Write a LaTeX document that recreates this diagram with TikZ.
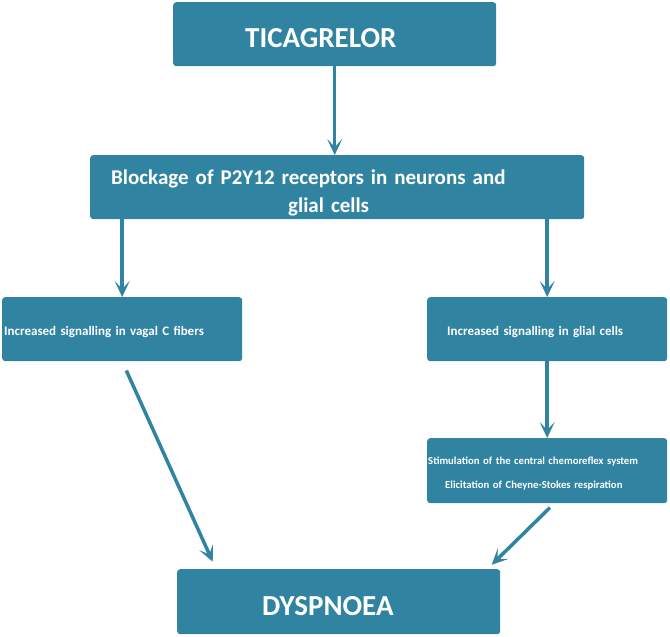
\documentclass[tikz,border=0pt]{standalone}
\usepackage{fontspec}
\setmainfont{Carlito}
\usetikzlibrary{arrows.meta}
\definecolor{boxteal}{RGB}{48,132,162}
\tikzset{
  flowbox/.style={fill=boxteal, text=white, rounded corners=3pt, align=left, anchor=north west, inner ysep=0pt},
  flow/.style={draw=boxteal, line width=3.5pt, -{Stealth[length=16pt,width=15pt,inset=8pt]}}
}

\begin{document}
\begin{tikzpicture}[x=1pt, y=-1pt]
    \useasboundingbox (0,0) rectangle (670,637);

    \node[flowbox, minimum height=64pt, text width=179pt, inner xsep=72pt, font=\bfseries\fontsize{29}{32}\selectfont] (tica) at (173,2) {\rule{0pt}{27pt}TICAGRELOR};
    \node[flowbox, minimum height=64pt, text width=452pt, inner xsep=21pt, font=\bfseries\fontsize{21}{28}\selectfont] (block) at (90,155)
        {\rule{0pt}{27pt}Blockage of P2Y12 receptors in neurons and\\\hspace*{177pt}glial cells};

    \node[flowbox, minimum height=64pt, text width=236pt, inner xsep=2pt, font=\bfseries\fontsize{13}{14}\selectfont] (vagal) at (2,297) {\rule{0pt}{14pt}Increased signalling in vagal C fibers};
    \node[flowbox, minimum height=64pt, text width=200pt, inner xsep=20pt, font=\bfseries\fontsize{13}{14}\selectfont] (glial) at (427,297) {\rule{0pt}{14pt}Increased signalling in glial cells};

    \node[flowbox, minimum height=65pt, text width=238pt, inner xsep=1pt, font=\bfseries\fontsize{10.7}{24}\selectfont] (chemo) at (427,438)
        {\rule{0pt}{13pt}Stimulation of the central chemoreflex system\\\hspace*{17pt}Elicitation of Cheyne-Stokes respiration};

    \node[flowbox, minimum height=65pt, text width=153pt, inner xsep=85pt, font=\bfseries\fontsize{29}{32}\selectfont] (dysp) at (177,569) {\rule{0pt}{28pt}DYSPNOEA};

    \draw[flow] (tica.south) -- (tica.south |- block.north);
    \draw[flow] (block.south -| vagal.north) -- (vagal.north);
    \draw[flow] (block.south -| glial.north) -- (glial.north);
    \draw[flow] (glial.south) -- (chemo.north);

    \draw[flow, shorten <=10pt, shorten >=8pt] (vagal.south) -- ([xshift=39pt]dysp.north west);
    \draw[flow, shorten <=6pt, shorten >=6pt] ([xshift=7pt]chemo.south) -- ([xshift=-13pt]dysp.north east);

  \end{tikzpicture}
\end{document}
